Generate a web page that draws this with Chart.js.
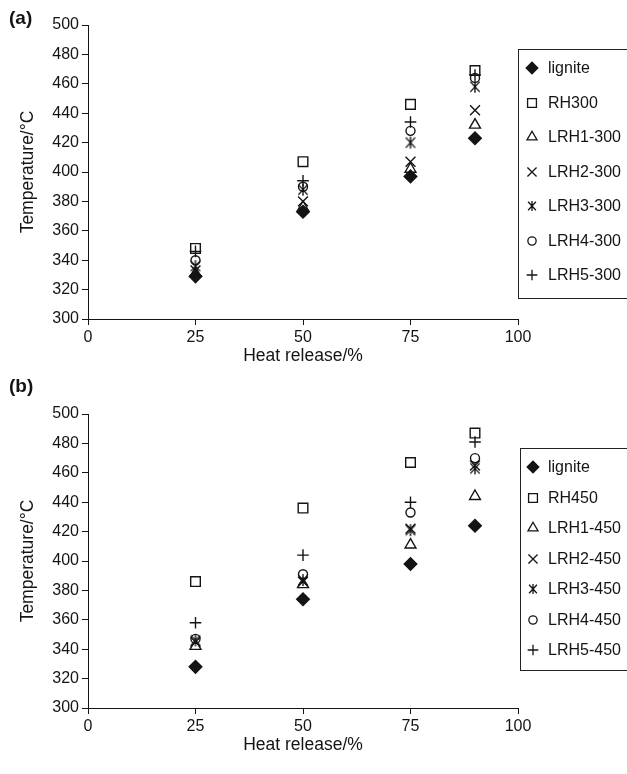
<!DOCTYPE html>
<html>
<head>
<meta charset="utf-8">
<script src="https://cdn.jsdelivr.net/npm/chart.js@4.4.0/dist/chart.umd.min.js"></script>
<style>
  html, body { margin: 0; padding: 0; background: #fff; }
  #wrap { position: relative; width: 627px; height: 774px; overflow: hidden; background: #fff; }
  canvas { position: absolute; left: 0; }
</style>
</head>
<body>
<div id="wrap">
  <canvas id="panelA" width="627" height="370" style="top:0px"></canvas>
  <canvas id="panelB" width="627" height="404" style="top:370px"></canvas>
</div>
<script>
// Heat release fractions (%) at which the temperatures were measured
const heatRelease = [25, 50, 75, 90];

// Panel (a): chars prepared at 300 °C
const ligniteA = [329, 373, 397, 423];
const rh300    = [348, 407, 446, 469];
const lrh1_300 = [331, 376, 402, 432];
const lrh2_300 = [333, 380, 407, 442];
const lrh3_300 = [336, 388, 420, 458];
const lrh4_300 = [340, 390, 428, 464];
const lrh5_300 = [346, 394, 434, 466];

// Panel (b): chars prepared at 450 °C
const ligniteB = [328, 374, 398, 424];
const rh450    = [386, 436, 467, 487];
const lrh1_450 = [342, 384, 411, 444];
const lrh2_450 = [345, 386, 422, 465];
const lrh3_450 = [346, 387, 421, 463];
const lrh4_450 = [347, 391, 433, 470];
const lrh5_450 = [358, 404, 440, 481];

// Axis ranges / tick steps
const xRange = [0, 100], xStep = 25;
const yRange = [300, 500], yStep = 20;

const FONT = '"Liberation Sans", Arial, Helvetica, sans-serif';
const INK = '#141414';

// six-armed asterisk marker (X with a vertical stroke)
function asteriskMark(size, lw) {
  const c = document.createElement('canvas');
  c.width = size; c.height = size;
  const g = c.getContext('2d');
  g.strokeStyle = INK; g.lineWidth = lw;
  const m = size / 2, h = size / 2 - 1, w = h * 0.78;
  g.beginPath();
  g.moveTo(m, m - h); g.lineTo(m, m + h);
  g.moveTo(m - w, m - h * 0.85); g.lineTo(m + w, m + h * 0.85);
  g.moveTo(m + w, m - h * 0.85); g.lineTo(m - w, m + h * 0.85);
  g.stroke();
  return c;
}
const asteriskBig = asteriskMark(14, 1.4);
const asteriskSmall = asteriskMark(12, 1.3);

const markerStyles = [
  { pointStyle: 'rectRot',  pointRadius: 6.3, fill: INK },
  { pointStyle: 'rect',     pointRadius: 6.8, fill: 'rgba(0,0,0,0)' },
  { pointStyle: 'triangle', pointRadius: 6.3, fill: 'rgba(0,0,0,0)' },
  { pointStyle: 'crossRot', pointRadius: 7.0, fill: 'rgba(0,0,0,0)' },
  { pointStyle: asteriskBig, pointRadius: 7.0, fill: 'rgba(0,0,0,0)', small: asteriskSmall },
  { pointStyle: 'circle',   pointRadius: 4.5, fill: 'rgba(0,0,0,0)' },
  { pointStyle: 'cross',    pointRadius: 5.8, fill: 'rgba(0,0,0,0)' }
];

function makeDatasets(labels, series) {
  return series.map((vals, i) => {
    const st = markerStyles[i];
    return {
      label: labels[i],
      data: heatRelease.map((x, k) => ({ x: x, y: vals[k] })),
      pointStyle: st.pointStyle,
      pointRadius: st.pointRadius,
      pointHoverRadius: st.pointRadius,
      backgroundColor: st.fill,
      borderColor: INK,
      borderWidth: 1.4,
      showLine: false,
      legendMark: st.small || st.pointStyle
    };
  });
}

// boxed legend drawn to the right of the plot area
const boxLegend = {
  id: 'boxLegend',
  afterDraw(chart, args, o) {
    const ctx = chart.ctx;
    ctx.save();
    ctx.strokeStyle = '#222';
    ctx.lineWidth = 1;
    ctx.strokeRect(o.left + 0.5, o.top + 0.5, 200, o.bottom - o.top);
    ctx.font = '16px ' + FONT;
    ctx.textBaseline = 'middle';
    ctx.textAlign = 'left';
    chart.data.datasets.forEach((ds, i) => {
      const y = Math.round(o.first + i * o.step);
      ctx.fillStyle = ds.backgroundColor;
      ctx.strokeStyle = INK;
      ctx.lineWidth = 1.3;
      Chart.helpers.drawPoint(ctx, {
        pointStyle: ds.legendMark,
        radius: ds.pointRadius * 0.92,
        borderWidth: 1.3,
        rotation: 0
      }, o.markerX, y);
      ctx.fillStyle = INK;
      ctx.fillText(ds.label, o.textX, y + 1);
    });
    ctx.restore();
  }
};

// bold panel tag "(a)" / "(b)"
const panelTag = {
  id: 'panelTag',
  afterDraw(chart, args, o) {
    const ctx = chart.ctx;
    ctx.save();
    ctx.font = 'bold 19px ' + FONT;
    ctx.fillStyle = INK;
    ctx.textBaseline = 'middle';
    ctx.fillText(o.text, o.x, o.y);
    ctx.restore();
  }
};

function makeChart(id, p, labels, series) {
  const tickFont = { family: FONT, size: 16 };
  const titleFont = { family: FONT, size: 17.5 };
  return new Chart(document.getElementById(id), {
    type: 'scatter',
    data: { datasets: makeDatasets(labels, series) },
    plugins: [boxLegend, panelTag],
    options: {
      responsive: false,
      animation: false,
      events: [],
      layout: { padding: { top: p.chartTop, right: 627 - 518, left: 0, bottom: 0 } },
      plugins: {
        legend: { display: false },
        tooltip: { enabled: false },
        boxLegend: p.legend,
        panelTag: { text: p.tag, x: 9, y: p.tagY }
      },
      scales: {
        x: {
          type: 'linear', min: xRange[0], max: xRange[1],
          ticks: { stepSize: xStep, color: INK, font: tickFont, padding: 3, maxRotation: 0 },
          grid: { drawOnChartArea: false, drawTicks: true, tickLength: 6, color: INK, lineWidth: 1 },
          border: { display: true, color: INK, width: 1 },
          title: { display: true, text: 'Heat release/%', color: INK, font: titleFont,
                   padding: { top: 0, bottom: p.xTitlePad } },
          afterFit: s => { s.height = p.H - p.chartBottom; }
        },
        y: {
          min: yRange[0], max: yRange[1],
          ticks: { stepSize: yStep, color: INK, font: tickFont, padding: 3 },
          grid: { drawOnChartArea: false, drawTicks: true, tickLength: 6, color: INK, lineWidth: 1 },
          border: { display: true, color: INK, width: 1 },
          title: { display: true, text: 'Temperature/°C', color: INK, font: titleFont,
                   padding: { top: 18, bottom: 0 } },
          afterFit: s => { s.width = 88; }
        }
      }
    }
  });
}

makeChart('panelA', {
  H: 370, chartTop: 25, chartBottom: 319, xTitlePad: 3, tag: '(a)', tagY: 19,
  legend: { left: 518, top: 49, bottom: 298, first: 68, step: 34.5, markerX: 532, textX: 548 }
}, ['lignite', 'RH300', 'LRH1-300', 'LRH2-300', 'LRH3-300', 'LRH4-300', 'LRH5-300'],
   [ligniteA, rh300, lrh1_300, lrh2_300, lrh3_300, lrh4_300, lrh5_300]);

makeChart('panelB', {
  H: 404, chartTop: 44, chartBottom: 338, xTitlePad: 18, tag: '(b)', tagY: 17,
  legend: { left: 520, top: 78, bottom: 300, first: 97, step: 30.5, markerX: 533, textX: 548 }
}, ['lignite', 'RH450', 'LRH1-450', 'LRH2-450', 'LRH3-450', 'LRH4-450', 'LRH5-450'],
   [ligniteB, rh450, lrh1_450, lrh2_450, lrh3_450, lrh4_450, lrh5_450]);
</script>
</body>
</html>
